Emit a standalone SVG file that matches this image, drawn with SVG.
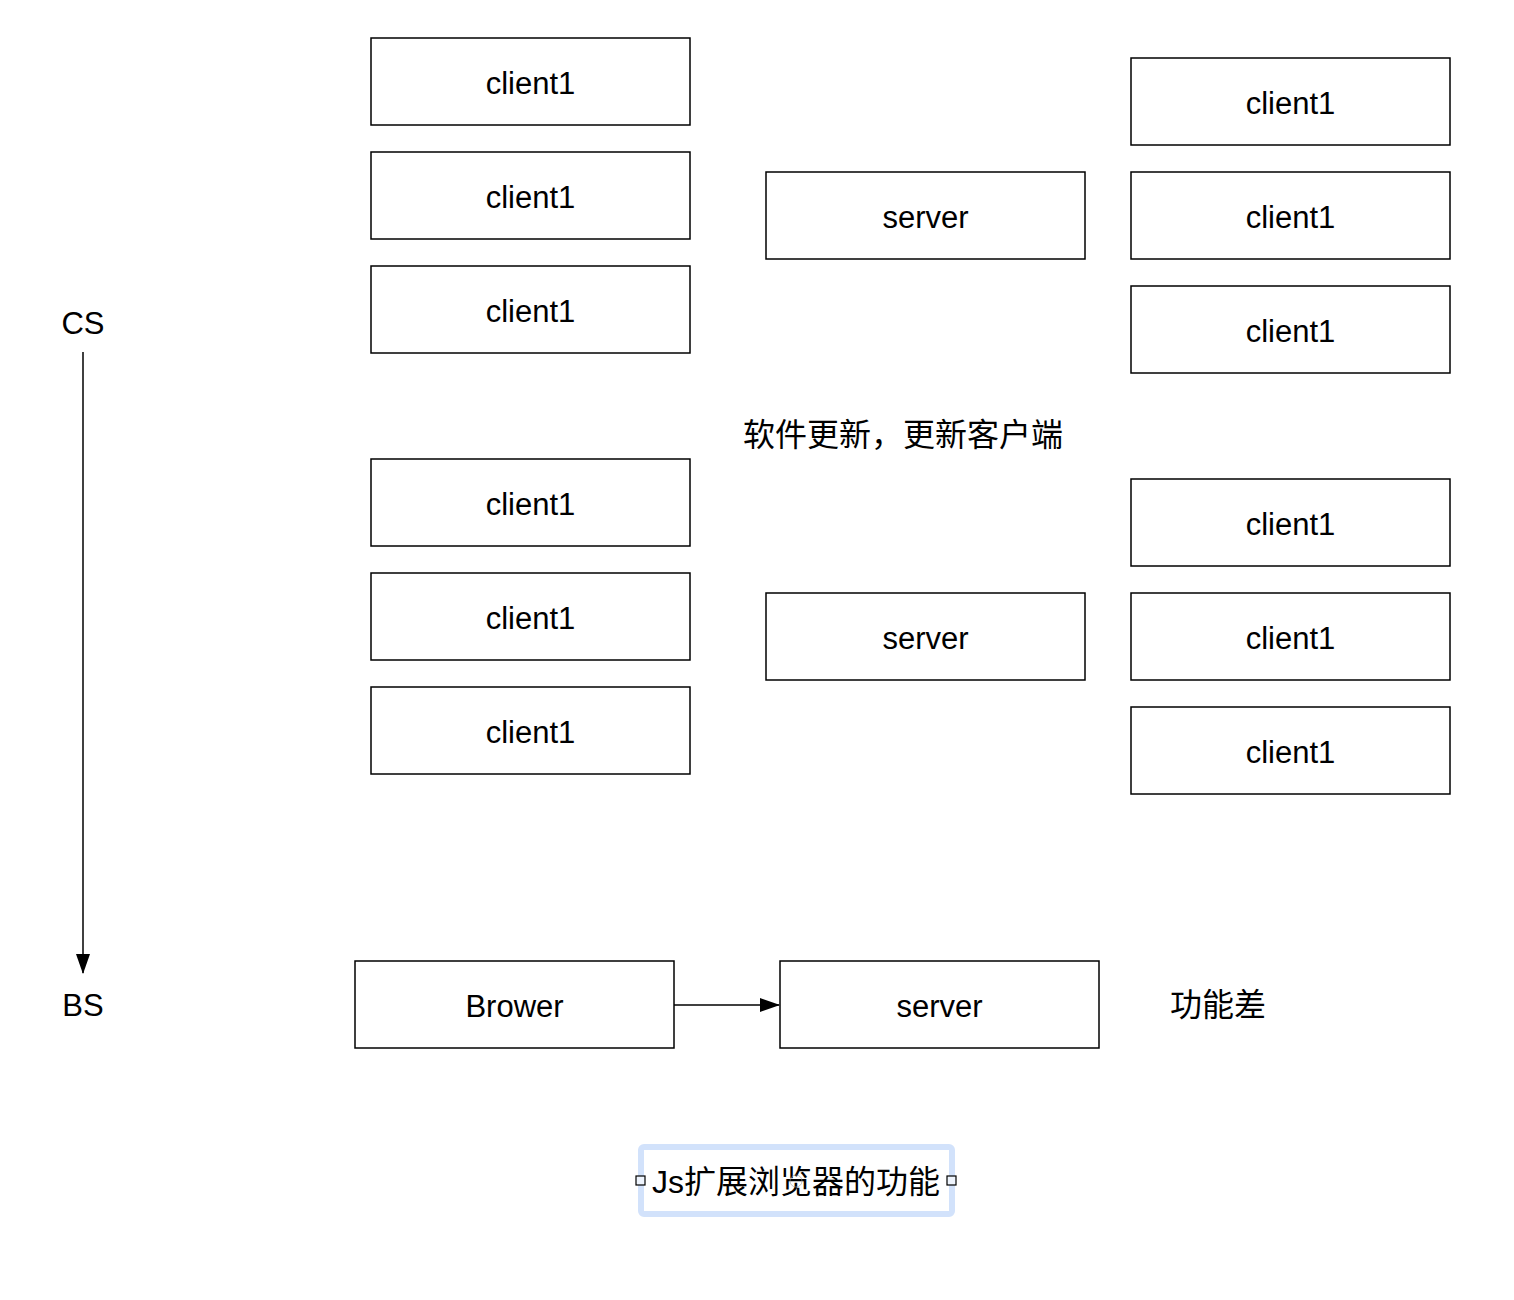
<svg xmlns="http://www.w3.org/2000/svg" width="1514" height="1300" viewBox="0 0 1514 1300">
<defs>
<style>
.box{fill:#fff;stroke:#000;stroke-width:1.5}
.t{font-family:"Liberation Sans",Arial,sans-serif;font-size:31px;fill:#000;text-anchor:middle}
.cn{font-family:"Liberation Sans","Noto Sans CJK SC",sans-serif;font-size:32px;fill:#000;text-anchor:middle}
.line{stroke:#000;stroke-width:1.5;fill:none}
</style>
<marker id="arr" viewBox="0 0 20 14" refX="19" refY="7" markerWidth="20" markerHeight="14" markerUnits="userSpaceOnUse" orient="auto">
<path d="M0,0 L20,7 L0,14 Z" fill="#000"/>
</marker>
</defs>
<rect width="1514" height="1300" fill="#fff"/>

<g id="connectors">
<line class="line" x1="83" y1="352" x2="83" y2="973" marker-end="url(#arr)"/>
<line class="line" x1="674" y1="1005" x2="779" y2="1005" marker-end="url(#arr)"/>
</g>

<g id="label-cs"><text class="t" x="83" y="334">CS</text></g>
<g id="label-bs"><text class="t" x="83" y="1016">BS</text></g>

<g id="lc1"><rect class="box" x="371" y="38" width="319" height="87"/><text class="t" x="530.5" y="94">client1</text></g>
<g id="lc2"><rect class="box" x="371" y="152" width="319" height="87"/><text class="t" x="530.5" y="208">client1</text></g>
<g id="lc3"><rect class="box" x="371" y="266" width="319" height="87"/><text class="t" x="530.5" y="322">client1</text></g>
<g id="server1"><rect class="box" x="766" y="172" width="319" height="87"/><text class="t" x="925.5" y="228">server</text></g>
<g id="rc1"><rect class="box" x="1131" y="58" width="319" height="87"/><text class="t" x="1290.5" y="114">client1</text></g>
<g id="rc2"><rect class="box" x="1131" y="172" width="319" height="87"/><text class="t" x="1290.5" y="228">client1</text></g>
<g id="rc3"><rect class="box" x="1131" y="286" width="319" height="87"/><text class="t" x="1290.5" y="342">client1</text></g>

<g id="label-update"><text class="cn" x="903" y="446">软件更新，更新客户端</text></g>

<g id="lc4"><rect class="box" x="371" y="459" width="319" height="87"/><text class="t" x="530.5" y="515">client1</text></g>
<g id="lc5"><rect class="box" x="371" y="573" width="319" height="87"/><text class="t" x="530.5" y="629">client1</text></g>
<g id="lc6"><rect class="box" x="371" y="687" width="319" height="87"/><text class="t" x="530.5" y="743">client1</text></g>
<g id="server2"><rect class="box" x="766" y="593" width="319" height="87"/><text class="t" x="925.5" y="649">server</text></g>
<g id="rc4"><rect class="box" x="1131" y="479" width="319" height="87"/><text class="t" x="1290.5" y="535">client1</text></g>
<g id="rc5"><rect class="box" x="1131" y="593" width="319" height="87"/><text class="t" x="1290.5" y="649">client1</text></g>
<g id="rc6"><rect class="box" x="1131" y="707" width="319" height="87"/><text class="t" x="1290.5" y="763">client1</text></g>

<g id="brower"><rect class="box" x="355" y="961" width="319" height="87"/><text class="t" x="514.5" y="1017">Brower</text></g>
<g id="server3"><rect class="box" x="780" y="961" width="319" height="87"/><text class="t" x="939.5" y="1017">server</text></g>
<g id="label-weak"><text class="cn" x="1218" y="1016">功能差</text></g>

<g id="label-js">
<rect x="641" y="1147" width="311" height="67" rx="3" fill="none" stroke="#d2e2fb" stroke-width="6"/>
<text class="cn" x="796" y="1193">Js扩展浏览器的功能</text>
<circle cx="796" cy="1181" r="6" fill="none" stroke="#999" stroke-width="1" opacity="0.6"/>
<rect x="636" y="1176" width="9" height="9" fill="#eef4fd" stroke="#000" stroke-width="1.2"/>
<rect x="947" y="1176" width="9" height="9" fill="#eef4fd" stroke="#000" stroke-width="1.2"/>
</g>
</svg>
